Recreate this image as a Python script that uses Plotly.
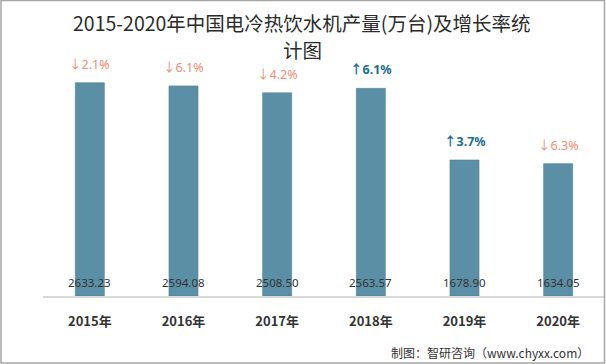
import plotly.graph_objects as go

years = ["2015年", "2016年", "2017年", "2018年", "2019年", "2020年"]
output = [2633.23, 2594.08, 2508.50, 2563.57, 1678.90, 1634.05]
growth = [-2.1, -6.1, -4.2, 6.1, 3.7, -6.3]
title_lines = ["2015-2020年中国电冷热饮水机产量(万台)及增长率统", "计图"]

W, H = 606, 364
ml, mr, mt, mb = 43, 1, 53, 68
pw, ph = W - ml - mr, H - mt - mb

bar_color = "#5B8FA6"
down_color = "#F08C72"
up_color = "#1B6C93"
arrow_span = '<span style="font-family:Noto Sans CJK SC">{}</span>'

fig = go.Figure()
fig.add_trace(go.Bar(
    x=years, y=output, width=0.31,
    marker=dict(color=bar_color, line=dict(color="#4F8299", width=0.6)),
    textposition="none",
    hoverinfo="x+y",
))

# value labels near the base of each bar
for yr, v in zip(years, output):
    fig.add_annotation(x=yr, y=0, yref="y", text=f"{v:.2f}", showarrow=False,
                       yanchor="bottom", yshift=4,
                       font=dict(family="Noto Sans, DejaVu Sans", size=11.5, color="#333333"))

# growth labels above bars
for yr, v, g in zip(years, output, growth):
    if g < 0:
        txt = arrow_span.format("↓") + f"{abs(g):.1f}%"
        fnt = dict(family="Noto Sans, DejaVu Sans", size=12.5, color=down_color)
    else:
        txt = "<b>" + arrow_span.format("↑") + f"{g:.1f}%</b>"
        fnt = dict(family="Noto Sans, DejaVu Sans", size=12.5, color=up_color)
    fig.add_annotation(x=yr, y=v, text=txt, showarrow=False, yanchor="bottom",
                       yshift=8, font=fnt)

# title (two lines)
for line, py in zip(title_lines, [23, 50]):
    fig.add_annotation(xref="paper", yref="paper", x=(302 - ml) / pw,
                       y=1 + (mt - py) / ph, text=line,
                       showarrow=False, xanchor="center", yanchor="middle",
                       font=dict(family="Noto Sans CJK SC", size=19.5, color="#2b2b2b"))

# source
fig.add_annotation(xref="paper", yref="paper", x=(591 - ml) / pw, y=-(352 - (H - mb)) / ph,
                   text="制图：智研咨询（www.chyxx.com）", showarrow=False,
                   xanchor="right", yanchor="middle",
                   font=dict(family="Noto Sans CJK SC", size=12, color="#333333"))

# border
fig.add_shape(type="rect", xref="paper", yref="paper",
              x0=-(ml - 1) / pw, x1=(W - ml - 1.5) / pw,
              y0=-(mb - 1) / ph, y1=1 + (mt - 0.5) / ph,
              line=dict(color="#A6A6A6", width=1.5), layer="above")

fig.update_layout(
    width=W, height=H,
    margin=dict(l=ml, r=mr, t=mt, b=mb),
    paper_bgcolor="white", plot_bgcolor="white",
    showlegend=False,
    xaxis=dict(showline=True, linecolor="#D9D9D9", linewidth=1.5, ticks="",
               ticklabelstandoff=13,
               tickfont=dict(family="Noto Sans CJK SC", size=13, color="#333333"),
               tickprefix="<b>", ticksuffix="</b>", showgrid=False, fixedrange=True),
    yaxis=dict(range=[0, 3000], visible=False, showgrid=False, fixedrange=True),
    bargap=0.69,
)

fig.write_html("out.html", config={"displayModeBar": False},
               post_script="document.body.style.margin='0';document.body.style.overflow='hidden';")
